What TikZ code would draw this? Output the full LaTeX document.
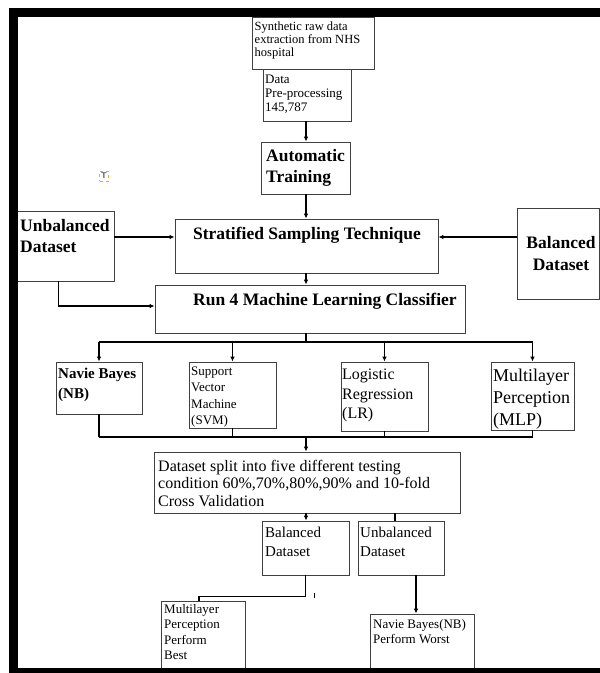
\documentclass[tikz,border=0pt]{standalone}
\usepackage{fontspec}
\setmainfont{Liberation Serif}
\usepackage{tikz}
\usetikzlibrary{positioning,calc,arrows.meta}

\begin{document}
\begin{tikzpicture}[x=1pt, y=-1pt,
  box/.style={draw=black!75, line width=0.8pt, fill=white, inner sep=0pt},
  lbl/.style={anchor=north west, inner sep=0pt, align=left},
  link/.style={line width=1.4pt},
  arr/.style={link, -{Latex[length=5pt, width=4.5pt]}}]
  \useasboundingbox (0,0) rectangle (600,673);
  \coordinate (spine) at (306,0);

  % Top chain
  \node[box, minimum width=122, minimum height=52] (src) at (313,43) {};
  \node[lbl, font=\fontsize{12.5}{13}\selectfont] (srcT) at (254.5,21.5) {Synthetic raw data\\extraction from NHS\\hospital};
  \node[box, minimum width=88, minimum height=52] (prep) at (307,95) {};
  \node[lbl, font=\fontsize{13}{14}\selectfont] (prepT) at (265,75) {Data\\Pre-processing\\145,787};
  \node[box, minimum width=89, minimum height=52] (auto) at (305.5,168) {};
  \node[lbl, font=\bfseries\fontsize{17.5}{21}\selectfont] (autoT) at (266,149) {Automatic\\Training};
  \node[draw=orange!70!yellow, dashed, line width=0.5pt, inner xsep=1.5pt, inner ysep=2pt, font=\sffamily\fontsize{8}{9}\selectfont] (tmark) at (104,176) {T};

  % Sampling
  \node[box, minimum width=97, minimum height=70] (unbal) at (65.5,246) {};
  \node[lbl, font=\bfseries\fontsize{17.5}{21}\selectfont] (unbalT) at (20,219.5) {Unbalanced\\Dataset};
  \node[box, minimum width=263, minimum height=54] (strat) at (306.5,246) {};
  \node[lbl, anchor=north, font=\bfseries\fontsize{17.5}{21}\selectfont] (stratT) at (307,227) {Stratified Sampling Technique};
  \node[box, minimum width=82, minimum height=91] (bal) at (558,253.5) {};
  \node[align=center, inner sep=0pt, font=\bfseries\fontsize{17.5}{22}\selectfont] (balT) at ([xshift=3pt]bal.center) {Balanced\\Dataset};
  \node[box, minimum width=310, minimum height=48] (run4) at (310,309) {};
  \node[lbl, font=\bfseries\fontsize{17.5}{21}\selectfont] (run4T) at (193,292.5) {Run 4 Machine Learning Classifier};

  % Classifiers
  \node[box, minimum width=86, minimum height=52] (nb) at (99,388) {};
  \node[lbl, font=\bfseries\fontsize{15}{20}\selectfont] (nbT) at (58,367.5) {Navie Bayes\\(NB)};
  \node[box, minimum width=87, minimum height=66] (svm) at (232.5,395) {};
  \node[lbl, font=\fontsize{13}{16.5}\selectfont] (svmT) at (191,366.5) {Support\\Vector\\Machine\\(SVM)};
  \node[box, minimum width=87, minimum height=69] (lr) at (384.5,396.5) {};
  \node[lbl, font=\fontsize{16}{19.5}\selectfont] (lrT) at (342,369) {Logistic\\Regression\\(LR)};
  \node[box, minimum width=83, minimum height=68] (mlp) at (532.5,396) {};
  \node[lbl, font=\fontsize{18}{22}\selectfont] (mlpT) at (493,369) {Multilayer\\Perception\\(MLP)};

  % Evaluation
  \node[box, minimum width=306, minimum height=61] (split) at (307,482.5) {};
  \node[lbl, font=\fontsize{16}{17.5}\selectfont] (splitT) at (158,460) {Dataset split into five different testing\\condition 60\%,70\%,80\%,90\% and 10-fold\\Cross Validation};
  \node[box, minimum width=87, minimum height=54] (bal2) at (305.5,548) {};
  \node[lbl, font=\fontsize{15}{18.5}\selectfont] (bal2T) at (265,527) {Balanced\\Dataset};
  \node[box, minimum width=86, minimum height=54] (unbal2) at (401,548) {};
  \node[lbl, font=\fontsize{15}{18.5}\selectfont] (unbal2T) at (360,527) {Unbalanced\\Dataset};
  \node[box, minimum width=84, minimum height=69] (best) at (203,635.5) {};
  \node[lbl, font=\fontsize{13}{15.5}\selectfont] (bestT) at (164,604) {Multilayer\\Perception\\Perform\\Best};
  \node[box, minimum width=104, minimum height=56] (worst) at (422,642) {};
  \node[lbl, font=\fontsize{13}{15}\selectfont] (worstT) at (373,619) {Navie Bayes(NB)\\Perform Worst};

  % Connectors
  \draw[arr] (spine |- prep.south) -- (spine |- auto.north);
  \draw[arr] (spine |- auto.south) -- (spine |- strat.north);
  \draw[arr] ([yshift=9pt]unbal.east) -- ([yshift=9pt]unbal.east -| strat.west);
  \draw[arr] ([yshift=16.5pt]bal.west) -- ([yshift=16.5pt]bal.west -| strat.east);
  \draw[arr] (spine |- strat.south) -- (spine |- run4.north);
  \draw[arr] ([xshift=-7pt]unbal.south) |- ([yshift=3pt]run4.west);
  \coordinate (bus) at (306,342);
  \draw[link] (spine |- run4.south) -- (bus);
  \draw[link] (nb.north |- bus) -- (mlp.north |- bus);
  \foreach \c in {nb,svm,lr,mlp}
    \draw[arr] (\c.north |- bus) -- (\c.north);
  \coordinate (join) at (306,437);
  \foreach \c in {nb,svm,lr,mlp}
    \draw[link] (\c.south) -- (\c.south |- join);
  \draw[link] (nb.south |- join) -- (mlp.south |- join);
  \draw[arr] (join) -- (join |- split.north);
  \draw[arr] (spine |- split.south) -- (spine |- bal2.north);
  \draw[link] ([xshift=-6pt]unbal2.north |- split.south) -- ([xshift=-6pt]unbal2.north);
  \draw[link] (bal2.south) -- ++(0,21) -| ([xshift=-4pt]best.north);
  \draw[line width=1pt] (314,593) -- (314,598);
  \draw[arr] ([xshift=15pt]unbal2.south) -- ([xshift=15pt]unbal2.south |- worst.north);

  % Frame
  \fill[black] (9,8) rectangle (600,17);
  \fill[black] (9,8) rectangle (18,673);
  \fill[black] (9,668) rectangle (600,673);
\end{tikzpicture}
\end{document}
